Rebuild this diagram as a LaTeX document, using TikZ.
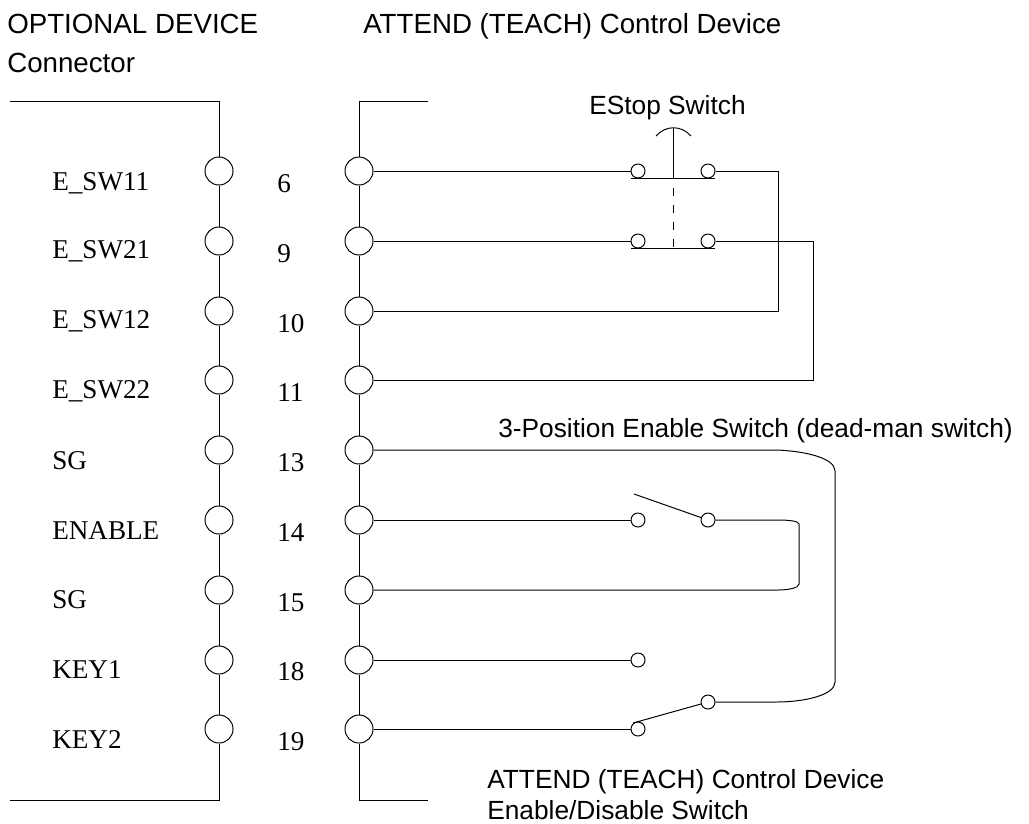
\documentclass[tikz,border=0pt]{standalone}
\usepackage{fontspec}
\setmainfont{Liberation Sans}
\newfontfamily\pinfont{Liberation Serif}
\usetikzlibrary{positioning,calc}
\tikzset{
	wire/.style={black,line width=0.7pt},
	pinring/.style={circle,draw=black,line width=0.7pt,fill=white,inner sep=0pt,minimum size=0.7cm},
	contact/.style={circle,draw=black,line width=0.7pt,fill=white,inner sep=0pt,minimum size=0.35cm},
	title/.style={anchor=base west,inner sep=0pt,font=\fontsize{18.7}{20}\selectfont},
	heading/.style={anchor=base west,inner sep=0pt,font=\fontsize{19.7}{22}\selectfont},
	pinlabel/.style={anchor=base west,inner sep=0pt,font=\pinfont\fontsize{19.3}{22}\selectfont},
}
\begin{document}
\begin{tikzpicture}[x=0.025cm,y=-0.025cm]
	\useasboundingbox (0,0) rectangle (1029,823);
	
	\node[heading] (optional) at (7,33) {OPTIONAL DEVICE};
	\node[heading] (connector) at (7,72) {Connector};
	\node[heading] (attend) at (363,33) {ATTEND (TEACH) Control Device};
	\node[title] (estop) at (589,114) {EStop Switch};
	\node[title] (threepos) at (498,437) {3-Position Enable Switch (dead-man switch)};
	\node[title] (attendb) at (487,788) {ATTEND (TEACH) Control Device};
	\node[title] (enable) at (487,819) {Enable/Disable Switch};
	
	% connector pins
	\foreach \n/\y/\lab/\num/\ly/\ny in {1/171/E\_SW11/6/190/192,2/241/E\_SW21/9/258/262,3/311/E\_SW12/10/328/332,4/380/E\_SW22/11/398/401,5/450/SG/13/469/471,6/520/ENABLE/14/539/541,7/590/SG/15/608/611,8/660/KEY1/18/678/680,9/729/KEY2/19/748/750}{
		\node[pinring] (L\n) at (219,\y) {};
		\node[pinring] (R\n) at (359,\y) {};
		\node[pinlabel] (name\n) at (52,\ly) {\lab};
		\node[pinlabel] (num\n) at (277,\ny) {\num};
	}
	
	\coordinate (LtopA) at (10,101);
	\coordinate (LtopB) at (219,101);
	\coordinate (LbotA) at (10,800);
	\coordinate (LbotB) at (219,800);
	\coordinate (RtopA) at (428,101);
	\coordinate (RtopB) at (359,101);
	\coordinate (RbotA) at (428,800);
	\coordinate (RbotB) at (359,800);
	
	\draw[wire] (LtopA) -- (LtopB) -- (L1);
	\draw[wire] (LbotA) -- (LbotB) -- (L9);
	\draw[wire] (RtopA) -- (RtopB) -- (R1);
	\draw[wire] (RbotA) -- (RbotB) -- (R9);
	\foreach \a/\b in {1/2,2/3,3/4,4/5,5/6,6/7,7/8,8/9}{
		\draw[wire] (L\a) -- (L\b);
		\draw[wire] (R\a) -- (R\b);
	}
	
	% EStop switch
	\node[contact] (e1a) at (638,171) {};
	\node[contact] (e1b) at (708,171) {};
	\node[contact] (e2a) at (638,241) {};
	\node[contact] (e2b) at (708,241) {};
	\coordinate (bar1a) at (631,178);
	\coordinate (bar1b) at (715,178);
	\coordinate (bar2a) at (631,248);
	\coordinate (bar2b) at (715,248);
	\coordinate (stemtop) at (673,128);
	\coordinate (stem1) at (673,178);
	\coordinate (dash1) at (673,188);
	\coordinate (stem2) at (673,248);
	\coordinate (capa) at (656,136);
	\coordinate (capb) at (691,136);
	\draw[wire] (bar1a) -- (bar1b);
	\draw[wire] (bar2a) -- (bar2b);
	\draw[wire] (stemtop) -- (stem1);
	\draw[wire,dash pattern=on 5.7pt off 6.3pt] (dash1) -- (stem2);
	\draw[wire] (capa) .. controls (666,125) and (681,125) .. (capb);
	\draw[wire] (R1) -- (e1a);
	\draw[wire] (R2) -- (e2a);
	\draw[wire] (e1b) -- (778,171) -- (778,311) -- (R3);
	\draw[wire] (e2b) -- (813,241) -- (813,380) -- (R4);
	
	% enable switch
	\node[contact] (s1a) at (638,520) {};
	\node[contact] (s1b) at (708,520) {};
	\node[contact] (k1) at (638,660) {};
	\node[contact] (k2a) at (638,729) {};
	\node[contact] (k2b) at (708,702) {};
	\coordinate (arm1) at (634,494);
	\coordinate (arm2) at (633,723);
	\draw[wire] (s1b) -- (arm1);
	\draw[wire] (k2b) -- (arm2);
	\draw[wire] (R6) -- (s1a);
	\draw[wire] (R8) -- (k1);
	\draw[wire] (R9) -- (k2a);
	\draw[wire] (R5) -- (776,450) .. controls (805,451) and (835,458) .. (835,471) -- (835,682) .. controls (835,695) and (805,702) .. (776,702) -- (k2b);
	\draw[wire] (s1b) -- (778,520) .. controls (788,520) and (799,521) .. (799,524) -- (799,584) .. controls (799,588) and (788,590) .. (778,590) -- (R7);
	
\end{tikzpicture}
\end{document}
